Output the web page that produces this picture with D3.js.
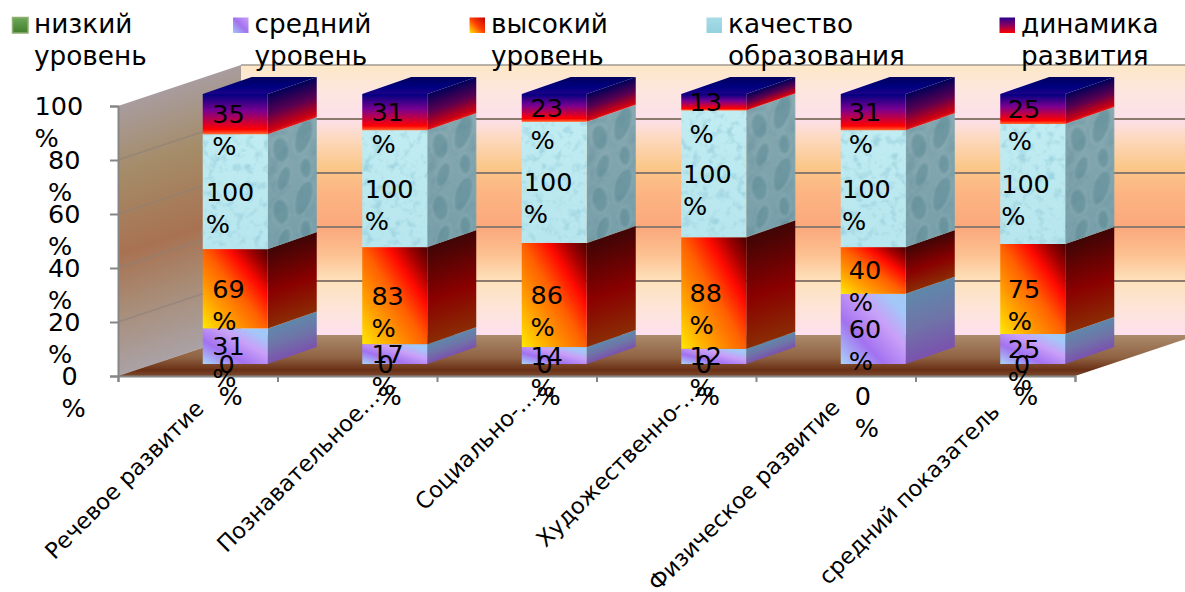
<!DOCTYPE html>
<html><head><meta charset="utf-8">
<script src="https://cdnjs.cloudflare.com/ajax/libs/d3/7.8.5/d3.min.js"></script>
<style>html,body{margin:0;padding:0;background:#fff;overflow:hidden}svg{display:block}text{font-family:"DejaVu Sans",sans-serif;fill:#000}</style>
</head><body><svg id="c" width="1185" height="592"></svg>
<script>
const categories=["Речевое развитие","Познавательное…","Социально-…","Художественно-…","Физическое развитие","средний показатель"];
const seriesNames=[["низкий","уровень"],["средний","уровень"],["высокий","уровень"],["качество","образования"],["динамика","развития"]];
const low=[0,0,0,0,0,0];
const mid=[31,17,14,12,60,25];
const high=[69,83,86,88,40,75];
const quality=[100,100,100,100,100,100];
const dynamics=[35,31,23,13,31,25];
const axisTicks=[0,20,40,60,80,100];
const allSeries=[low,mid,high,quality,dynamics];

const W=1185,H=592,F=25.5;
const depth={dx:123,dy:41}, barDepth={dx:49,dy:17}, barW=65;
const svg=d3.select("#c"), defs=svg.append("defs");
const xAxisS=d3.scaleLinear().domain([0,6]).range([118,1075]);
const yWall=d3.scaleLinear().domain([0,100]).range([376,106]);
const yBar=d3.scaleLinear().domain([0,100]).range([364,94]);
const xLabel=d3.scaleLinear().domain([0,5]).range([228.5,1024]);

function grad(id,v,stops){const g=defs.append("linearGradient").attr("id",id)
  .attr("x1",v[0]).attr("y1",v[1]).attr("x2",v[2]).attr("y2",v[3]);
  stops.forEach(s=>g.append("stop").attr("offset",s[0]).attr("stop-color",s[1]));}
grad("gBack",[0,0,0,1],[[0,"#fde8c6"],[.1,"#fde6e0"],[.2,"#fce0ea"],[.27,"#fdd9c0"],[.38,"#fbc788"],[.47,"#fcb583"],[.6,"#fba87c"],[.7,"#fdc090"],[.8,"#fde2bc"],[.9,"#fde5d8"],[1,"#fde0ee"]]);
grad("gLeft",[0,0,0,1],[[0,"#a89c9e"],[.25,"#a58c68"],[.55,"#a87252"],[.75,"#a88c76"],[1,"#aaa2a6"]]);
grad("gFloor",[0,0,0,1],[[0,"#ab8a6c"],[.55,"#8f6242"],[.85,"#6a2f15"],[1,"#7a4a30"]]);
grad("gLowF",[0,0,0,1],[[0,"#6fa85a"],[1,"#3f7f2a"]]);
grad("gLowS",[0,0,0,1],[[0,"#4f7f3a"],[1,"#2f5f1f"]]);
grad("gMidF",[0,1,1,0],[[0,"#a9d4f8"],[.33,"#a272f0"],[.62,"#c9a0f8"],[.85,"#a2c8f8"],[1,"#a2c8f8"]]);
grad("gMidS",[0,0,0,1],[[0,"#5f88aa"],[.5,"#6f74a8"],[1,"#7a52ae"]]);
grad("gHighF",[0,1,1,0],[[0,"#ffe800"],[.25,"#ffa000"],[.5,"#ff6000"],[.7,"#ff0a00"],[.85,"#a00000"],[1,"#4a0000"]]);
grad("gHighS",[0,0,0,1],[[0,"#3f0505"],[.55,"#8a0000"],[1,"#8a2c04"]]);
grad("gQualF",[0,0,0,1],[[0,"#c0ecf2"],[1,"#b8e6ee"]]);
grad("gQualS",[0,0,0,1],[[0,"#86a8b0"],[1,"#78a0aa"]]);
grad("gDynF",[0,0,0,1],[[0,"#000080"],[.42,"#7a0090"],[.88,"#ff0000"],[1,"#ff6a30"]]);
grad("gDynS",[0,0,0,1],[[0,"#00005a"],[.5,"#5a0050"],[.92,"#d00010"],[1,"#e02020"]]);
grad("gTop",[0,1,0,0],[[0,"#1c0088"],[.4,"#000080"],[1,"#00005e"]]);
grad("gSwDyn",[0,0,0,1],[[0,"#2a0090"],[.5,"#8a0060"],[1,"#ff0000"]]);
grad("gSwQual",[0,0,0,1],[[0,"#a6dce6"],[1,"#94d0de"]]);
grad("gSwHigh",[0,1,1,0],[[0,"#ffe800"],[.5,"#ff4000"],[1,"#c00000"]]);
grad("gSwMid",[0,1,1,0],[[0,"#a2c8f8"],[.5,"#a272f0"],[1,"#c9a0f8"]]);

function water(id,f,rgb,a){const fl=defs.append("filter").attr("id",id).attr("x",0).attr("y",0).attr("width",1).attr("height",1).attr("color-interpolation-filters","sRGB");
  fl.append("feTurbulence").attr("type","fractalNoise").attr("baseFrequency",f).attr("numOctaves",3).attr("seed",7).attr("result","n");
  fl.append("feColorMatrix").attr("in","n").attr("type","matrix").attr("values",`0 0 0 0 ${rgb[0]} 0 0 0 0 ${rgb[1]} 0 0 0 0 ${rgb[2]} ${a} 0 0 0 ${-a*0.5}`).attr("result","t");
  fl.append("feComposite").attr("in","t").attr("in2","SourceAlpha").attr("operator","in").attr("result","c");
  const m=fl.append("feMerge");m.append("feMergeNode").attr("in","SourceGraphic");m.append("feMergeNode").attr("in","c");}
water("wF",0.11,[0.62,0.83,0.88],3.0);
water("wS",0.06,[0.42,0.58,0.63],2.4);
// droplet texture on the side faces of the quality segments
const dropBlur=defs.append("filter").attr("id","soft");dropBlur.append("feGaussianBlur").attr("stdDeviation",1);
const pat=defs.append("pattern").attr("id","drops").attr("patternUnits","userSpaceOnUse").attr("width",49).attr("height",62);
[[13,20,8,14,-15],[36,14,9,17,15],[16,50,7,12,15],[38,47,6,11,-10]].forEach(e=>{
  pat.append("ellipse").attr("cx",e[0]).attr("cy",e[1]).attr("rx",e[2]).attr("ry",e[3])
    .attr("transform",`rotate(${e[4]} ${e[0]} ${e[1]})`).attr("fill","#5f8c98").attr("fill-opacity",.55)
    .attr("stroke","#a4c0c6").attr("stroke-opacity",.55).attr("stroke-width",1.2).attr("filter","url(#soft)");
});

const skewY=-barDepth.dy/barDepth.dx;
const path=p=>"M"+p.map(d=>d.join(",")).join("L")+"Z";
const y0=yWall(0),y100=yWall(100),xL=xAxisS(0),xR=xAxisS(6);
svg.append("rect").attr("x",xL+depth.dx).attr("y",y100-depth.dy).attr("width",W-xL-depth.dx).attr("height",y0-y100).attr("fill","url(#gBack)");
svg.append("rect").attr("width",depth.dx).attr("height",y0-y100).attr("fill","url(#gLeft)")
  .attr("transform",`matrix(1,${-depth.dy/depth.dx},0,1,${xL},${y100})`);
svg.append("path").attr("d",path([[xL,y0],[xL+depth.dx,y0-depth.dy],[xR+depth.dx,y0-depth.dy],[xR,y0]])).attr("fill","url(#gFloor)");
axisTicks.filter(t=>t>0).forEach(t=>{
  const y=yWall(t);
  svg.append("path").attr("fill","none").attr("stroke",t===100?"#a09a90":"#8c7a6e").attr("stroke-width",t===100?1.5:2)
    .attr("d",`M${xL+depth.dx},${y-depth.dy}L${W},${y-depth.dy}`);
  svg.append("path").attr("fill","none").attr("stroke","#8c8078").attr("stroke-width",1.5).attr("opacity",t===100?0:.6)
    .attr("d",`M${xL},${y}L${xL+depth.dx},${y-depth.dy}`);
});
const ax=svg.append("g").attr("transform",`translate(${xL},0)`).call(d3.axisLeft(yWall).tickValues(axisTicks).tickSize(8).tickFormat(""));
const bx=svg.append("g").attr("transform",`translate(0,${y0})`).call(d3.axisBottom(xAxisS).tickValues(d3.range(0,7)).tickSize(6).tickFormat(""));
[ax,bx].forEach(g=>g.selectAll("path,line").attr("stroke","#868686").attr("stroke-width",2));
axisTicks.forEach(t=>{
  const n=String(t).length, x=75-13.5*n, y=yWall(t)+9;
  const g=svg.append("text").attr("font-size",F).attr("x",x).attr("y",y);
  g.append("tspan").attr("x",x).text(t);
  g.append("tspan").attr("x",x).attr("dy",32).text("%");
});
const faces=[["gLowF","gLowS"],["gMidF","gMidS"],["gHighF","gHighS"],["gQualF","gQualS"],["gDynF","gDynS"]];
const xBar=i=>xAxisS(i+.5)+(depth.dx-barDepth.dx)/2-barW/2+.5;
categories.forEach((c,i)=>{
  const total=d3.sum(allSeries,s=>s[i]);
  let acc=0; const g=svg.append("g");
  allSeries.forEach((s,k)=>{
    const v=s[i]; if(!v){return;}
    const yb=yBar(acc/total*100), yt=yBar((acc+v)/total*100); acc+=v;
    const x=xBar(i);
    const tf=`matrix(1,${skewY},0,1,${x+barW},${yt})`;
    const side=g.append("rect").attr("width",barDepth.dx).attr("height",yb-yt).attr("fill",`url(#${faces[k][1]})`).attr("transform",tf);
    if(k===3){side.attr("filter","url(#wS)");
      g.append("rect").attr("width",barDepth.dx).attr("height",yb-yt).attr("fill","url(#drops)").attr("transform",tf);}
    const front=g.append("rect").attr("x",x).attr("y",yt).attr("width",barW).attr("height",yb-yt).attr("fill",`url(#${faces[k][0]})`);
    if(k===3){front.attr("filter","url(#wF)");}
    if(k===allSeries.length-1){
      g.append("path").attr("d",path([[x,yt],[x+barDepth.dx,yt-barDepth.dy],[x+barDepth.dx+barW,yt-barDepth.dy],[x+barW,yt]])).attr("fill","url(#gTop)");
    }
  });
});
const zeroDrop=[0,0,0,0,32,0];
function dataLabel(i,val,yc){
  const w=String(val).length*.636*F, bw=Math.max(w,.95*F);
  const x=xLabel(i)-bw/2+(val===0?2:val===100?1.5:0), y=yc+9;
  const t=svg.append("text").attr("font-size",F).attr("y",y);
  t.append("tspan").attr("x",x).text(val);
  t.append("tspan").attr("x",x).attr("dy",32).text("%");
}
categories.forEach((c,i)=>{
  const total=d3.sum(allSeries,s=>s[i]); let acc=0;
  allSeries.forEach((s,k)=>{
    const v=s[i], mid0=yBar((acc+v/2)/total*100); acc+=v;
    dataLabel(i,v,mid0+(v===0?zeroDrop[i]:0));
  });
});
const catEnd=[[205,410],[381,399],[538,398],[701,393],[841,409],[1001,413]];
categories.forEach((c,i)=>{
  svg.append("text").attr("font-size",22.6).attr("text-anchor","end")
    .attr("transform",`translate(${catEnd[i][0]},${catEnd[i][1]}) rotate(-45)`).text(c);
});
const legendText=[34,254.5,491,728,1021];
const legendFill=["url(#gLowF)","url(#gSwMid)","url(#gSwHigh)","url(#gSwQual)","url(#gSwDyn)"];
seriesNames.forEach((n,i)=>{
  const x=legendText[i];
  const r=svg.append("rect").attr("x",x-21.5).attr("y",17.5).attr("width",15.5).attr("height",15.5).attr("fill",legendFill[i]);
  if(i===0)r.attr("stroke","#8fae70").attr("stroke-width",1.5);
  const t=svg.append("text").attr("font-size",26.3).attr("y",33);
  t.append("tspan").attr("x",x).text(n[0]);
  t.append("tspan").attr("x",x).attr("dy",32).text(n[1]);
});
</script></body></html>
